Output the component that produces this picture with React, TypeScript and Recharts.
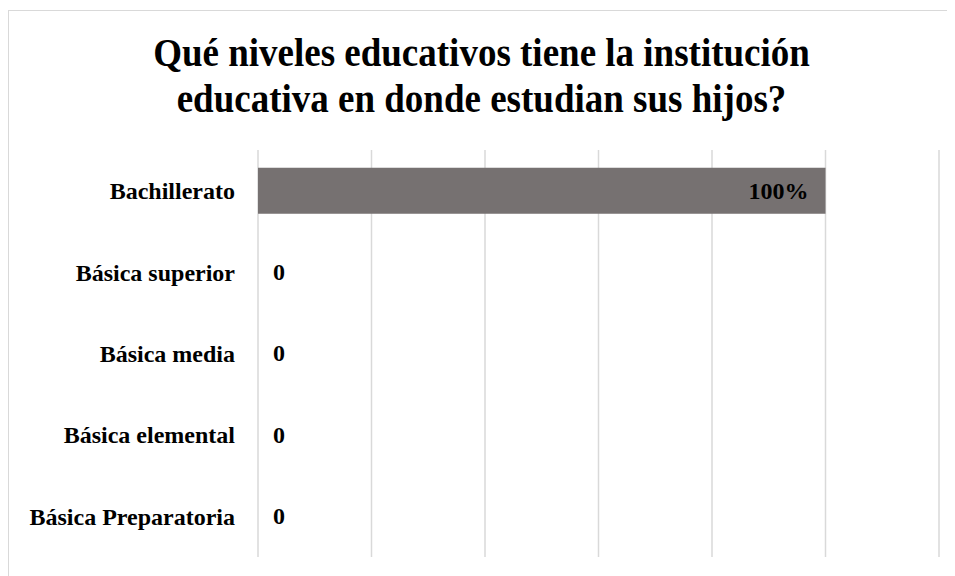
import React from 'react';
import { BarChart, Bar, XAxis, YAxis, CartesianGrid, LabelList, Rectangle } from 'recharts';

const categories = ['Bachillerato', 'Básica superior', 'Básica media', 'Básica elemental', 'Básica Preparatoria'];
const values = [100, 0, 0, 0, 0];
const xTicks = [0, 20, 40, 60, 80, 100, 120];

const data = categories.map((name, i) => ({ name, value: values[i] }));

const font = '"Liberation Serif", "Times New Roman", serif';

const renderLabel = (props: any) => {
    const { x, y, width, height, value } = props;
    const cy = y + height / 2;
    if (!value) {
        return (
            <text x={x + 15} y={cy} dy={8} textAnchor="start" fontFamily={font} fontWeight="bold" fontSize={24} fill="#000">
                {value}
            </text>
        );
    }
    return (
        <text x={x + width - 17} y={cy} dy={8} textAnchor="end" fontFamily={font} fontWeight="bold" fontSize={24} fill="#000">
            {value}%
        </text>
    );
};

// zero values keep a tiny rect so their label still shows, but nothing is drawn
const renderBar = (props: any) => {
    if (!props.payload || !props.payload.value) return <g />;
    return <Rectangle {...props} />;
};

export default function App() {
    return (
        <div style={{ paddingTop: 2 }}>
            <div style={{ borderTop: '1px solid #d9d9d9', borderLeft: '1px solid #d9d9d9', width: 946, height: 570, boxSizing: 'border-box' }}>
                <div style={{ paddingTop: 21, textAlign: 'center', fontFamily: font, fontWeight: 'bold', fontSize: 37, lineHeight: '43px', color: '#000', transform: 'scaleY(1.06)' }}>
                    Qué niveles educativos tiene la institución<br />educativa en donde estudian sus hijos?
                </div>
                <BarChart
                    width={945}
                    height={458}
                    data={data}
                    layout="vertical"
                    margin={{ top: 32, right: 15, bottom: 19, left: 0 }}
                    barCategoryGap="21.7%"
                >
                    <CartesianGrid horizontal={false} vertical={true} stroke="#d9d9d9" strokeWidth={1.5} />
                    <XAxis type="number" domain={[0, 120]} ticks={xTicks} hide />
                    <YAxis
                        type="category"
                        dataKey="name"
                        width={249}
                        axisLine={false}
                        tickLine={false}
                        tickSize={0}
                        tickMargin={23}
                        tick={{ fontFamily: font, fontWeight: 'bold', fontSize: 24, fill: '#000' }}
                    />
                    <Bar dataKey="value" fill="#767171" minPointSize={1} shape={renderBar} isAnimationActive={false}>
                        <LabelList dataKey="value" content={renderLabel} />
                    </Bar>
                </BarChart>
            </div>
        </div>
    );
}
